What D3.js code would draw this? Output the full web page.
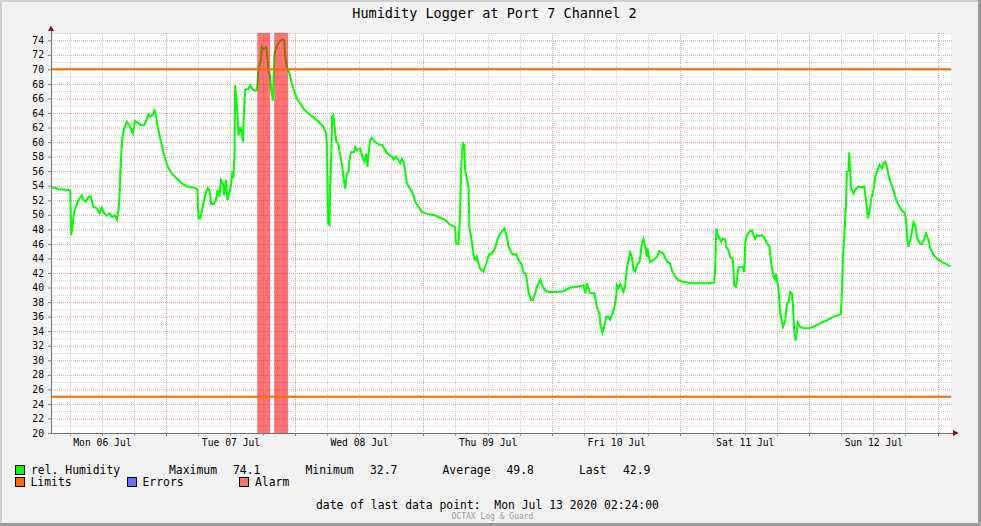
<!DOCTYPE html>
<html><head><meta charset="utf-8">
<script src="https://cdn.jsdelivr.net/npm/d3@7/dist/d3.min.js"></script>
<style>body{margin:0;background:#fff}svg{display:block}text{font-family:"DejaVu Sans Mono",monospace}</style>
</head><body>
<script>
// ---- data (hours since Mon 06 Jul 2020 00:00) ----
const hours = [2.53,3.47,3.84,5.76,6.08,6.27,6.58,6.83,7.33,7.63,8.26,8.56,9.01,9.50,9.94,10.43,11.06,11.55,12.00,12.43,12.93,13.42,13.87,14.48,14.80,15.10,15.28,15.54,15.79,16.16,16.66,17.09,17.41,17.78,18.21,18.83,19.28,19.89,20.40,20.70,21.01,21.33,21.63,21.82,22.13,22.38,22.88,23.38,23.81,24.43,25.06,26.00,26.93,27.86,29.41,29.84,30.03,30.35,30.66,31.09,31.47,31.78,32.08,32.40,32.83,33.28,33.58,33.95,34.21,34.58,34.83,35.14,35.44,35.76,36.08,36.38,36.56,36.75,36.88,37.07,37.31,37.50,37.82,38.13,38.32,38.43,38.56,38.75,39.36,39.68,40.11,40.43,40.93,41.23,41.68,41.86,42.16,42.67,42.80,43.10,43.41,43.60,43.92,44.03,44.22,44.67,45.15,45.60,46.03,46.21,46.53,47.02,47.28,47.76,48.40,49.01,49.63,50.56,51.50,52.43,53.36,53.87,54.00,54.11,54.24,54.49,54.61,54.80,54.99,55.23,55.42,55.74,56.16,56.80,57.10,57.41,57.73,58.03,58.22,58.48,59.10,59.28,59.60,60.21,60.72,61.01,61.33,61.58,61.76,62.08,62.40,63.01,63.63,64.26,64.88,65.20,66.13,66.43,66.88,67.25,67.68,68.00,68.30,68.62,68.93,69.55,70.05,70.48,71.10,71.73,72.96,74.21,75.14,76.08,76.88,77.63,77.95,78.07,78.56,78.75,78.88,79.01,79.20,79.38,79.50,79.63,79.81,80.13,80.43,80.62,80.93,81.18,81.50,81.81,82.00,82.30,82.61,83.23,83.74,84.24,84.80,85.42,85.85,86.35,87.15,87.60,87.90,88.53,88.96,89.33,89.77,90.27,90.70,91.20,91.63,92.08,92.45,92.88,93.20,93.81,94.32,94.75,95.37,96.93,98.17,99.42,100.67,101.90,102.22,102.53,102.83,103.15,103.95,104.40,104.89,105.02,105.44,105.76,106.13,106.57,106.88,107.20,107.63,108.00,108.13,108.43,108.75,109.07,109.37,109.68,110.00,110.30,110.62,110.93,111.23,111.55,111.87,112.35,112.61,112.80,113.10,113.42,113.73,113.84,114.03,114.35,114.96,115.60,116.03,116.35,116.83,117.15,117.58,118.08,118.40,119.01,119.63,120.57,121.82,123.68,125.55,126.30,126.49,126.62,126.73,126.92,127.29,127.61,127.92,128.35,128.54,128.97,129.29,129.79,130.03,130.35,130.53,130.84,131.66,131.90,132.09,132.40,132.89,133.34,133.63,133.95,134.27,134.75,135.20,135.63,136.13,136.62,136.94,137.37,137.56,137.82,138.12,138.31,138.62,139.13,139.55,139.87,140.17,140.49,140.80,140.99,141.23,141.48,141.74,141.92,142.35,142.97,143.90,144.84,146.09,147.33,148.57,149.51,149.95,150.14,150.32,150.56,150.88,151.07,151.37,151.50,151.68,151.87,152.30,152.75,153.24,153.87,154.30,154.67,154.99,155.29,155.61,156.03,156.35,156.78,157.16,157.61,157.91,158.22,158.54,158.84,159.29,159.77,160.27,160.89,161.34,161.83,162.09,162.28,162.58,162.90,163.21,163.51,163.83,164.14,164.63,165.08,165.51,165.88,166.31,166.62,167.24,167.88,168.81,169.74,170.36];
const humidity = [53.8,53.7,53.5,53.4,53.3,47.2,48.8,50.4,51.5,52.0,52.7,52.0,51.8,52.5,52.5,51.1,50.9,50.2,51.0,50.2,49.9,50.2,49.7,49.9,49.3,50.6,52.5,57.5,60.5,61.9,62.8,62.3,61.9,61.2,62.9,62.6,62.3,62.3,63.2,63.8,63.5,63.7,63.9,64.5,63.5,62.3,60.5,58.9,57.7,56.4,55.7,55.0,54.3,53.9,53.7,53.5,49.5,49.5,50.6,52.0,53.2,53.7,53.4,51.5,51.5,52.0,53.4,52.5,54.8,54.3,52.7,54.8,52.0,52.9,54.0,56.0,55.0,58.4,67.8,66.2,63.9,60.9,62.1,61.2,60.0,62.1,64.8,67.2,67.3,67.8,67.3,67.1,67.1,70.1,71.2,73.1,72.8,73.1,72.2,69.9,69.0,67.3,65.7,68.0,72.2,73.3,73.8,74.1,74.0,71.9,70.3,69.4,68.5,67.3,66.0,65.3,64.6,63.9,63.4,62.8,62.1,61.2,59.3,54.5,48.8,48.6,53.8,58.0,63.5,63.7,62.1,60.2,59.6,57.0,55.2,53.6,55.7,55.9,57.5,58.6,58.6,59.3,58.9,59.1,57.7,57.3,58.4,56.6,58.4,60.2,60.6,60.0,59.7,59.6,58.9,58.5,58.0,57.6,58.0,57.7,57.1,57.7,57.3,56.1,54.3,53.6,52.9,51.8,51.1,50.4,50.1,49.9,49.6,49.3,48.7,48.4,48.3,46.1,46.0,48.3,50.6,54.8,58.4,60.0,58.9,59.8,56.1,55.0,53.8,48.1,47.0,45.6,44.0,43.8,44.2,43.3,42.6,42.2,43.3,44.5,44.7,45.4,46.7,47.4,48.1,47.0,45.6,44.7,44.5,44.6,43.8,43.3,42.1,41.7,39.4,38.3,38.3,39.2,40.1,41.1,40.1,39.6,39.4,39.4,39.5,40.0,40.1,40.3,39.2,40.6,39.9,39.2,39.2,37.3,36.4,35.0,33.8,34.6,36.0,36.0,35.6,36.2,37.1,38.7,40.3,39.9,40.5,39.9,39.4,40.3,42.6,43.8,44.8,44.2,42.4,42.2,43.1,43.5,44.9,46.1,46.7,45.6,44.2,45.4,44.5,43.5,43.8,44.2,45.0,44.8,44.7,44.0,43.5,43.3,42.4,41.5,41.0,40.8,40.6,40.6,40.6,40.7,42.8,46.5,48.1,47.4,46.7,46.3,46.7,46.6,45.6,45.1,44.2,43.8,40.3,40.1,41.0,42.8,42.8,42.1,46.1,47.2,47.7,47.9,47.2,46.7,47.2,47.1,47.2,46.9,46.1,45.6,43.3,41.5,41.2,41.9,40.6,39.6,36.5,34.6,35.5,37.8,38.0,39.4,39.2,37.6,34.1,32.7,33.9,35.2,34.6,34.4,34.4,34.6,35.1,35.5,36.0,36.2,36.4,39.4,44.2,46.7,51.1,55.9,56.1,58.6,56.1,53.6,52.9,53.6,53.9,53.8,53.9,51.8,49.5,50.4,52.2,53.4,55.2,56.1,56.9,56.4,57.1,57.3,56.6,55.4,54.3,53.4,52.0,51.1,50.6,50.3,49.3,47.0,45.6,46.5,47.7,49.0,48.6,47.0,46.1,46.0,46.7,47.4,46.5,45.4,44.5,44.0,43.5,43.2,42.9];
const alarmStart = [41.0, 44.16];
const alarmEnd = [43.41, 46.77];
const limits = [70, 25];
const timeDomainHours = [2.5, 170.5];
const yDomain = [20, 75];
const yTickValues = d3.range(20, 76, 2).filter(v => v <= 74);
const statLabels = ["Maximum", "Minimum", "Average", "Last"];
const statValues = ["74.1", "32.7", "49.8", "42.9"];
const title = "Humidity Logger at Port 7 Channel 2";
const lastPoint = "date of last data point:  Mon Jul 13 2020 02:24:00";

// ---- helpers ----
const base = Date.UTC(2020, 6, 6);
const hDate = h => new Date(base + h * 3600e3);
const W = 981, H = 526;
const L = 51, R = 951, T = 33, B = 433;

const svg = d3.select("body").append("svg").attr("width", W).attr("height", H);
svg.append("rect").attr("width", W).attr("height", H).attr("fill", "#f2f2f2");
// shading border
svg.append("rect").attr("x",0).attr("y",0).attr("width",W).attr("height",2).attr("fill","#d0d0d0");
svg.append("rect").attr("x",0).attr("y",0).attr("width",2).attr("height",H).attr("fill","#d0d0d0");
svg.append("rect").attr("x",W-3).attr("y",0).attr("width",3).attr("height",H).attr("fill","#9c9c9c");
svg.append("rect").attr("x",0).attr("y",H-3).attr("width",W).attr("height",3).attr("fill","#9c9c9c");

const x = d3.scaleUtc().domain(timeDomainHours.map(hDate)).range([L, R]);
const y = d3.scaleLinear().domain(yDomain).range([B, T]);

svg.append("rect").attr("x", L).attr("y", T).attr("width", R - L).attr("height", B - T).attr("fill", "#fff");

// grid
const g = svg.append("g");
d3.range(21, 76).forEach(v => {
  const major = v % 2 === 0;
  g.append("line").attr("x1", L).attr("x2", R + 2).attr("y1", y(v) + 0.5).attr("y2", y(v) + 0.5)
    .attr("stroke", major ? "#e4a3a3" : "#d6cccc").attr("stroke-width", 1).attr("stroke-dasharray", "1,1");
});
const vLines = d3.utcHour.every(6).range(x.domain()[0], x.domain()[1]);
vLines.forEach(d => {
  const major = d.getUTCHours() === 0;
  const px = Math.round(x(d)) + 0.5;
  g.append("line").attr("x1", px).attr("x2", px).attr("y1", T).attr("y2", B)
    .attr("stroke", major ? "#e4a3a3" : "#cfcfcf").attr("stroke-dasharray", "1,1");
  g.append("line").attr("x1", px).attr("x2", px).attr("y1", B).attr("y2", B + 3)
    .attr("stroke", major ? "#d06060" : "#a0a0a0");
});

// data line
const data = hours.map((h, i) => ({ t: hDate(h), v: humidity[i] }));
svg.append("path").datum(data)
  .attr("d", d3.line().x(d => x(d.t)).y(d => y(d.v)))
  .attr("fill", "none").attr("stroke", "#00ff00").attr("stroke-width", 2);

// alarm bands
alarmStart.forEach((s, i) => {
  svg.append("rect").attr("x", x(hDate(s))).attr("y", T)
    .attr("width", x(hDate(alarmEnd[i])) - x(hDate(s))).attr("height", B - T)
    .attr("fill", "rgba(255,0,0,0.55)");
});

// limits
limits.forEach(v => {
  svg.append("line").attr("x1", L).attr("x2", R).attr("y1", y(v)).attr("y2", y(v))
    .attr("stroke", "#ff6a00").attr("stroke-width", 2);
});

// axes
const yAxis = svg.append("g").attr("transform", `translate(${L},0)`)
  .call(d3.axisLeft(y).tickValues(yTickValues).tickSize(3).tickPadding(4).tickFormat(d3.format("d")));
yAxis.select(".domain").remove();
yAxis.selectAll("line").attr("stroke", "#808080");
yAxis.selectAll("text").attr("font-size", "9.7px").attr("fill", "#000").attr("font-family", "DejaVu Sans Mono");

const noonTicks = d3.utcHour.every(12).range(x.domain()[0], x.domain()[1]).filter(d => d.getUTCHours() === 12);
const xAxis = svg.append("g").attr("transform", `translate(0,${B})`)
  .call(d3.axisBottom(x).tickValues(noonTicks).tickSize(0).tickPadding(6).tickFormat(d3.utcFormat("%a %d %b")));
xAxis.select(".domain").remove();
xAxis.selectAll("text").attr("font-size", "9.7px").attr("fill", "#000").attr("font-family", "DejaVu Sans Mono");

svg.append("line").attr("x1", L + 0.5).attr("x2", L + 0.5).attr("y1", B).attr("y2", 28).attr("stroke", "#707070");
svg.append("line").attr("x1", L).attr("x2", 954).attr("y1", B + 0.5).attr("y2", B + 0.5).attr("stroke", "#707070");
svg.append("path").attr("d", "M48,31L54,31L51,25.5Z").attr("fill", "#8b1010");
svg.append("path").attr("d", "M953,430L953,436L958.5,433Z").attr("fill", "#8b1010");

// title
svg.append("text").attr("x", 494.5).attr("y", 18).attr("text-anchor", "middle")
  .attr("font-size", "13.5px").attr("fill", "#000").text(title);

// legend
const lg = svg.append("g").attr("font-size", "11.4px").attr("fill", "#000");
function box(xp, yp, col) {
  lg.append("rect").attr("x", xp + 0.5).attr("y", yp + 0.5).attr("width", 9).attr("height", 9)
    .attr("fill", col).attr("stroke", "#000").attr("stroke-width", 1);
}
box(15, 465, "#00ff00");
lg.append("text").attr("x", 31).attr("y", 474).text("rel. Humidity");
const statLX = [169, 305.5, 442.5, 579];
const statVX = [233, 370, 506.5, 623];
statLabels.forEach((s, i) => {
  lg.append("text").attr("x", statLX[i]).attr("y", 474).text(s);
  lg.append("text").attr("x", statVX[i]).attr("y", 474).text(statValues[i]);
});
box(15, 477, "#ff6a00");
lg.append("text").attr("x", 30.5).attr("y", 486).text("Limits");
box(127, 477, "#7070ff");
lg.append("text").attr("x", 142.5).attr("y", 486).text("Errors");
box(239, 477, "#ff7070");
lg.append("text").attr("x", 255).attr("y", 486).text("Alarm");

svg.append("text").attr("x", 316).attr("y", 509).attr("font-size", "11.4px")
  .style("white-space", "pre").attr("fill", "#000").text(lastPoint);
svg.append("text").attr("x", 492.5).attr("y", 519).attr("text-anchor", "middle")
  .attr("font-size", "8px").attr("fill", "#9a9a9a").text("OCTAX Log & Guard");
</script>
</body></html>
